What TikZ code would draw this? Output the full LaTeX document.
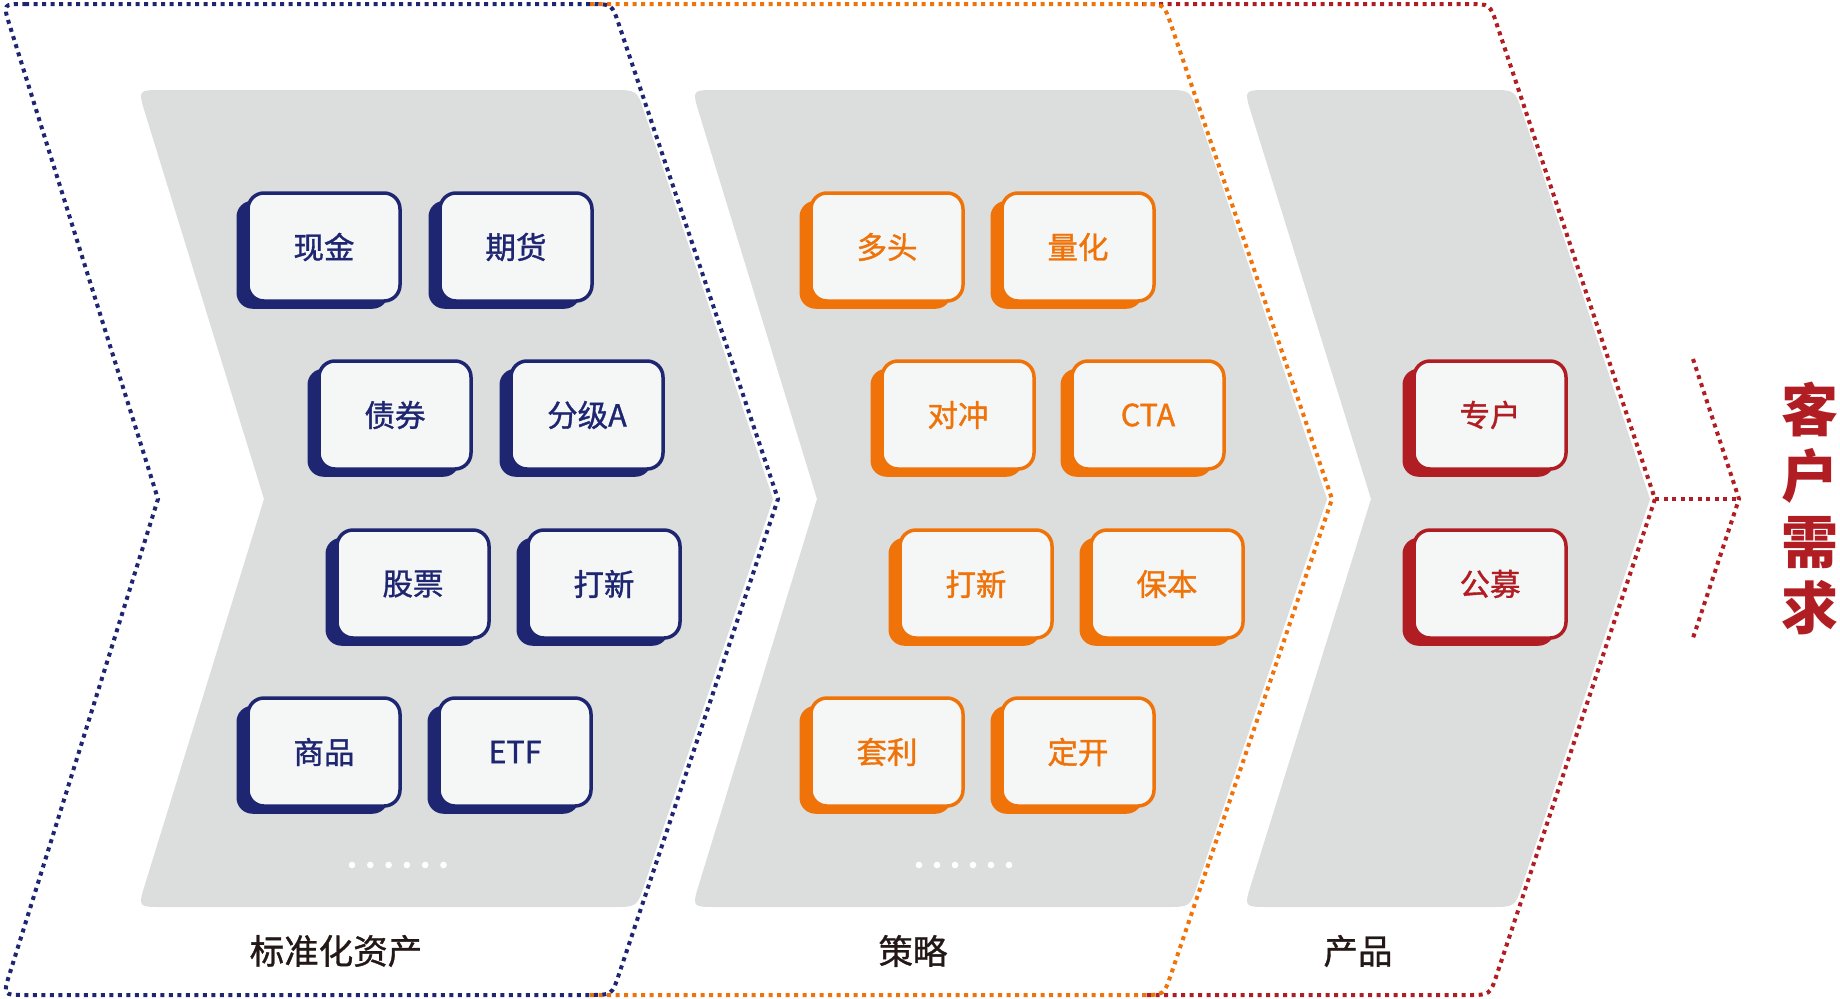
\documentclass[tikz,border=0pt]{standalone}
\usepackage{fontspec}
\setmainfont{Noto Sans CJK SC}
\newfontfamily\boxfont[FakeBold=1.2]{Noto Sans CJK SC}
\newfontfamily\labfont[FakeBold=1.0]{Noto Sans CJK SC}
\usetikzlibrary{calc,shadows}
\definecolor{navy}{HTML}{1E2671}
\definecolor{orng}{HTML}{EF7309}
\definecolor{dred}{HTML}{B01E24}
\definecolor{grayf}{HTML}{DCDEDD}
\definecolor{boxf}{HTML}{F5F7F7}
\definecolor{labc}{HTML}{231815}
\newcommand\rcpath[7]{($(#1)!#7!(#2)$) -- ($(#2)!#7!(#1)$) .. controls (#2) .. ($(#2)!#7!(#3)$) -- (#3) -- ($(#4)!#7!(#3)$) .. controls (#4) .. ($(#4)!#7!(#5)$) -- ($(#5)!#7!(#4)$) .. controls (#5) .. ($(#5)!#7!(#6)$) -- (#6) -- ($(#1)!#7!(#6)$) .. controls (#1) .. ($(#1)!#7!(#2)$) -- cycle}
\tikzset{
  dotline/.style={line width=4pt, dash pattern=on 4pt off 4.5pt},
  itembox/.style={line width=3.5pt, fill=boxf, rounded corners=16pt, minimum width=152pt, minimum height=108pt, inner sep=0pt, font=\boxfont\fontsize{30.5}{30.5}\selectfont},
  bluebox/.style={itembox, draw=navy, text=navy, general shadow={fill=navy, shadow xshift=-11.5pt, shadow yshift=-7.75pt}},
  orgbox/.style={itembox, draw=orng, text=orng, general shadow={fill=orng, shadow xshift=-11.5pt, shadow yshift=-7.75pt}},
  redbox/.style={itembox, draw=dred, text=dred, general shadow={fill=dred, shadow xshift=-11.5pt, shadow yshift=-7.75pt}},
  steplabel/.style={font=\labfont\fontsize{34.5}{34.5}\selectfont, text=labc},
}
\begin{document}
\begin{tikzpicture}[x=1pt,y=-1pt]
\useasboundingbox (0,0) rectangle (1840,999);
% gray panels
\coordinate (g1a) at (138,90); \coordinate (g1b) at (637,90); \coordinate (g1c) at (773,499);
\coordinate (g1d) at (637,907); \coordinate (g1e) at (138,907); \coordinate (g1f) at (264,499);
\coordinate (g2a) at (692,90); \coordinate (g2b) at (1190,90); \coordinate (g2c) at (1327,499);
\coordinate (g2d) at (1190,907); \coordinate (g2e) at (692,907); \coordinate (g2f) at (817,499);
\coordinate (g3a) at (1244,90); \coordinate (g3b) at (1515,90); \coordinate (g3c) at (1650,499);
\coordinate (g3d) at (1515,907); \coordinate (g3e) at (1244,907); \coordinate (g3f) at (1371,499);
\fill[grayf] \rcpath{g1a}{g1b}{g1c}{g1d}{g1e}{g1f}{24pt};
\fill[grayf] \rcpath{g2a}{g2b}{g2c}{g2d}{g2e}{g2f}{24pt};
\fill[grayf] \rcpath{g3a}{g3b}{g3c}{g3d}{g3e}{g3f}{24pt};
% dotted outlines
\coordinate (r1) at (1142,4); \coordinate (r2) at (1490,4); \coordinate (r3) at (1655,499);
\coordinate (r4) at (1490,995); \coordinate (r5) at (1142,995);
\draw[dred,dotline] (r1) -- ($(r2)!22pt!(r1)$) .. controls (r2) .. ($(r2)!22pt!(r3)$) -- (r3) -- ($(r4)!22pt!(r3)$) .. controls (r4) .. ($(r4)!22pt!(r5)$) -- (r5);
\coordinate (o1) at (590,4); \coordinate (o2) at (1164,4); \coordinate (o3) at (1332,499);
\coordinate (o4) at (1164,995); \coordinate (o5) at (590,995);
\draw[orng,dotline] (o1) -- ($(o2)!22pt!(o1)$) .. controls (o2) .. ($(o2)!22pt!(o3)$) -- (o3) -- ($(o4)!22pt!(o3)$) .. controls (o4) .. ($(o4)!22pt!(o5)$) -- (o5);
\coordinate (b1) at (3,4); \coordinate (b2) at (612,4); \coordinate (b3) at (778,499);
\coordinate (b4) at (612,995); \coordinate (b5) at (3,995); \coordinate (b6) at (158,499);
\draw[navy,dotline] \rcpath{b1}{b2}{b3}{b4}{b5}{b6}{22pt};
% right arrow
\coordinate (ra) at (1693,359); \coordinate (rt) at (1739,499); \coordinate (rb) at (1693,638);
\draw[dred,dotline] (r3) -- (rt);
\draw[dred,dotline] (ra) -- (rt) -- (rb);
% boxes
\node[bluebox] (xj) at (324,247) {现金};
\node[bluebox] (qh) at (516,247) {期货};
\node[bluebox] (zq) at (395,415) {债券};
\node[bluebox] (fj) at (587,415) {分级A};
\node[bluebox] (gp) at (413,584) {股票};
\node[bluebox] (dx1) at (604,584) {打新};
\node[bluebox] (sp) at (324,752) {商品};
\node[bluebox] (etf) at (515,752) {ETF};
\node[orgbox] (dt) at (887,247) {多头};
\node[orgbox] (lh) at (1078,247) {量化};
\node[orgbox] (dc) at (958,415) {对冲};
\node[orgbox] (cta) at (1148,415) {CTA};
\node[orgbox] (dx2) at (976,584) {打新};
\node[orgbox] (bb) at (1167,584) {保本};
\node[orgbox] (tl) at (887,752) {套利};
\node[orgbox] (dk) at (1078,752) {定开};
\node[redbox] (zh) at (1490,415) {专户};
\node[redbox] (gm) at (1490,584) {公募};
% dots
\foreach \i in {0,...,5} {
  \fill[white] (352+18.3*\i,865) circle (3.3pt);
  \fill[white] (919+18*\i,865) circle (3.3pt);
}
% labels
\node[steplabel] (l1) at (336,951) {标准化资产};
\node[steplabel] (l2) at (913,951) {策略};
\node[steplabel] (l3) at (1358,951) {产品};
\node[text=dred, font=\bfseries\fontsize{57}{66}\selectfont, align=center, inner sep=0pt] (need) at (1810,508) {客\\户\\需\\求};
\end{tikzpicture}
\end{document}
